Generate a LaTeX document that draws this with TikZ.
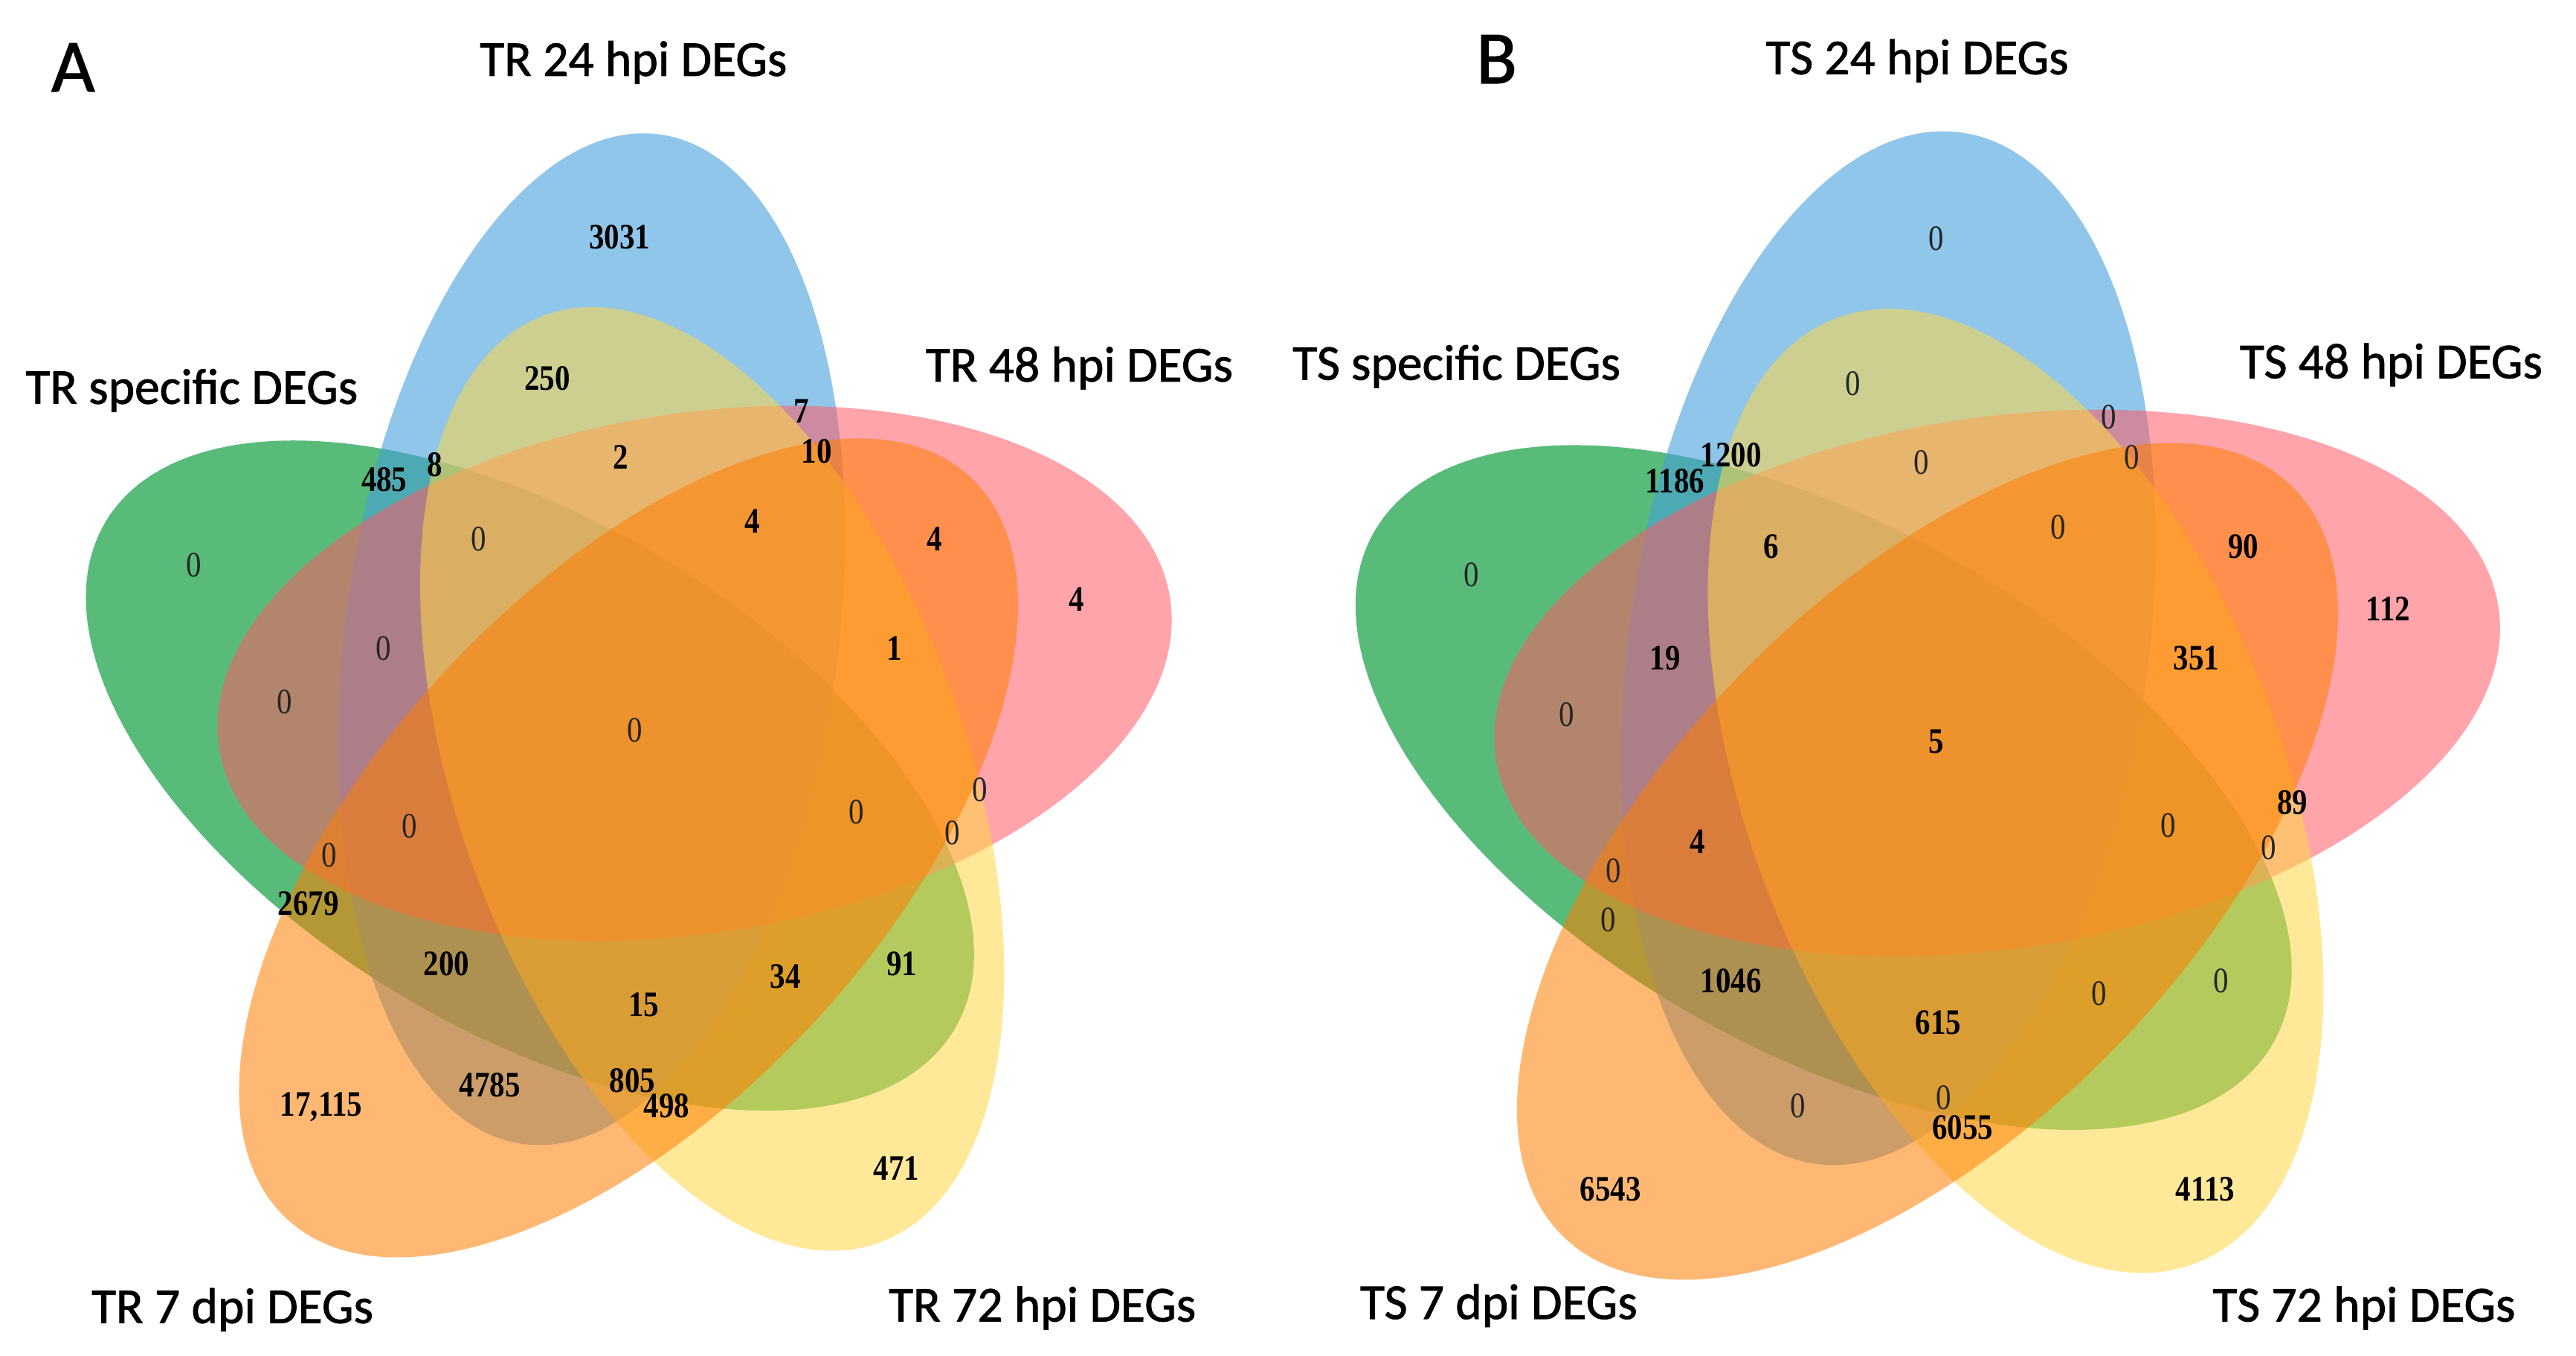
\documentclass[tikz,border=0pt]{standalone}
\usepackage{fontspec}
\setmainfont{Liberation Serif}
\newfontfamily\labelfont[FakeBold=1.2]{Carlito}
\newfontfamily\numfont[FakeStretch=0.85]{Liberation Serif}

\definecolor{vgreen}{RGB}{0,150,50}
\definecolor{vblue}{RGB}{70,160,220}
\definecolor{vpink}{RGB}{255,90,100}
\definecolor{vyellow}{RGB}{255,215,70}
\definecolor{vorange}{RGB}{255,125,0}

\tikzset{
    setname/.style={font=\labelfont\fontsize{8.7}{10}\selectfont, inner sep=0pt},
    panel/.style={font=\labelfont\fontsize{13}{15}\selectfont, inner sep=0pt},
    num/.style={font=\numfont\bfseries\fontsize{6.2}{7}\selectfont, inner sep=0pt},
    zero/.style={font=\numfont\fontsize{6.2}{7}\selectfont, text=black!85, inner sep=0pt}
}

% the five petals, drawn in panel A coordinates
\newcommand{\vennpetals}{%
    \fill[vgreen,fill opacity=0.65,shift={(322.6,-472)},rotate=149.1] (0,0) ellipse [x radius=301, y radius=155];
    \fill[vblue,fill opacity=0.6,shift={(360,-389)},rotate=82.3] (0,0) ellipse [x radius=310, y radius=150];
    \fill[vpink,fill opacity=0.55,shift={(422.8,-409.7)},rotate=9.05] (0,0) ellipse [x radius=293, y radius=158];
    \fill[vyellow,fill opacity=0.55,shift={(433.5,-474)},rotate=109.8] (0,0) ellipse [x radius=300, y radius=155];
    \fill[vorange,fill opacity=0.55,shift={(382.6,-516)},rotate=47.4] (0,0) ellipse [x radius=307, y radius=155];
}

\begin{document}
\begin{tikzpicture}[x=0.1mm,y=0.1mm]
    \useasboundingbox (0,0) rectangle (1568,-825);

    % panel A
    \vennpetals
    \node[panel] (A) at (44.5,-41) {A};
    \node[setname] (A-24) at (385.6,-38) {TR 24 hpi DEGs};
    \node[setname] (A-sp) at (116.7,-237.6) {TR specific DEGs};
    \node[setname] (A-48) at (657,-224) {TR 48 hpi DEGs};
    \node[setname] (A-7d) at (141.5,-797) {TR 7 dpi DEGs};
    \node[setname] (A-72) at (634.5,-796) {TR 72 hpi DEGs};

    \foreach \x/\y/\t [count=\i] in {377.1/144.1/3031, 333.2/230.5/250, 487.9/250.3/7,
        497.2/274.8/10, 378/278.1/2, 233.9/291.9/485, 264.8/282.7/8, 457.9/317.3/4,
        568.8/327.9/4, 655.1/364.9/4, 544.3/394.5/1, 187.7/549.7/2679, 271.8/586.6/200,
        548.9/586.6/91, 478.2/594.4/34, 391.9/611.6/15, 298.1/660.5/4785, 384.9/657.7/805,
        405.7/673/498, 195.6/673.9/{17,115}, 545.7/710.9/471}
        \node[num] (a\i) at (\x,-\y) {\t};
    \foreach \x/\y [count=\i] in {117.9/344.1, 291.6/327.9, 233.4/394.5, 173.4/427.3,
        386.3/444.3, 596.5/480.4, 521.2/494.2, 579.9/506.7, 249.1/503, 200.2/520.6}
        \node[zero] (az\i) at (\x,-\y) {0};

    % panel B
    \begin{scope}[shift={(1175.8,-458.8)},xscale=1.054,yscale=1.0217,shift={(-385,452)}]
        \vennpetals
    \end{scope}
    \node[panel] (B) at (911,-36) {B};
    \node[setname] (B-24) at (1167,-37) {TS 24 hpi DEGs};
    \node[setname] (B-sp) at (886.6,-223) {TS specific DEGs};
    \node[setname] (B-48) at (1455.5,-222) {TS 48 hpi DEGs};
    \node[setname] (B-7d) at (912.3,-794.5) {TS 7 dpi DEGs};
    \node[setname] (B-72) at (1439,-796) {TS 72 hpi DEGs};

    \foreach \x/\y/\t [count=\i] in {1053.7/276.7/1200, 1019.5/292.8/1186, 1078.2/332.6/6,
        1365.5/332.6/90, 1453.7/370.4/112, 1013.5/400.5/19, 1336.8/400.5/351,
        1178.4/451.3/5, 1395.5/488.2/89, 1033.4/512.3/4, 1053.7/596.8/1046,
        1179.8/622.2/615, 1194.6/686/6055, 980.3/723.8/6543, 1342.4/723.8/4113}
        \node[num] (b\i) at (\x,-\y) {\t};
    \foreach \x/\y [count=\i] in {1178.4/145, 1128.1/233.3, 1283.7/254, 1297.6/278.1,
        1169.6/281.3, 1252.8/321, 895.7/349.7, 953.5/435.1, 1319.8/502.1, 1380.7/515.9,
        982.1/529.8, 978.9/559.8, 1352.1/596.8, 1277.7/604.6, 1094.3/673, 1183/668}
        \node[zero] (bz\i) at (\x,-\y) {0};
\end{tikzpicture}
\end{document}
